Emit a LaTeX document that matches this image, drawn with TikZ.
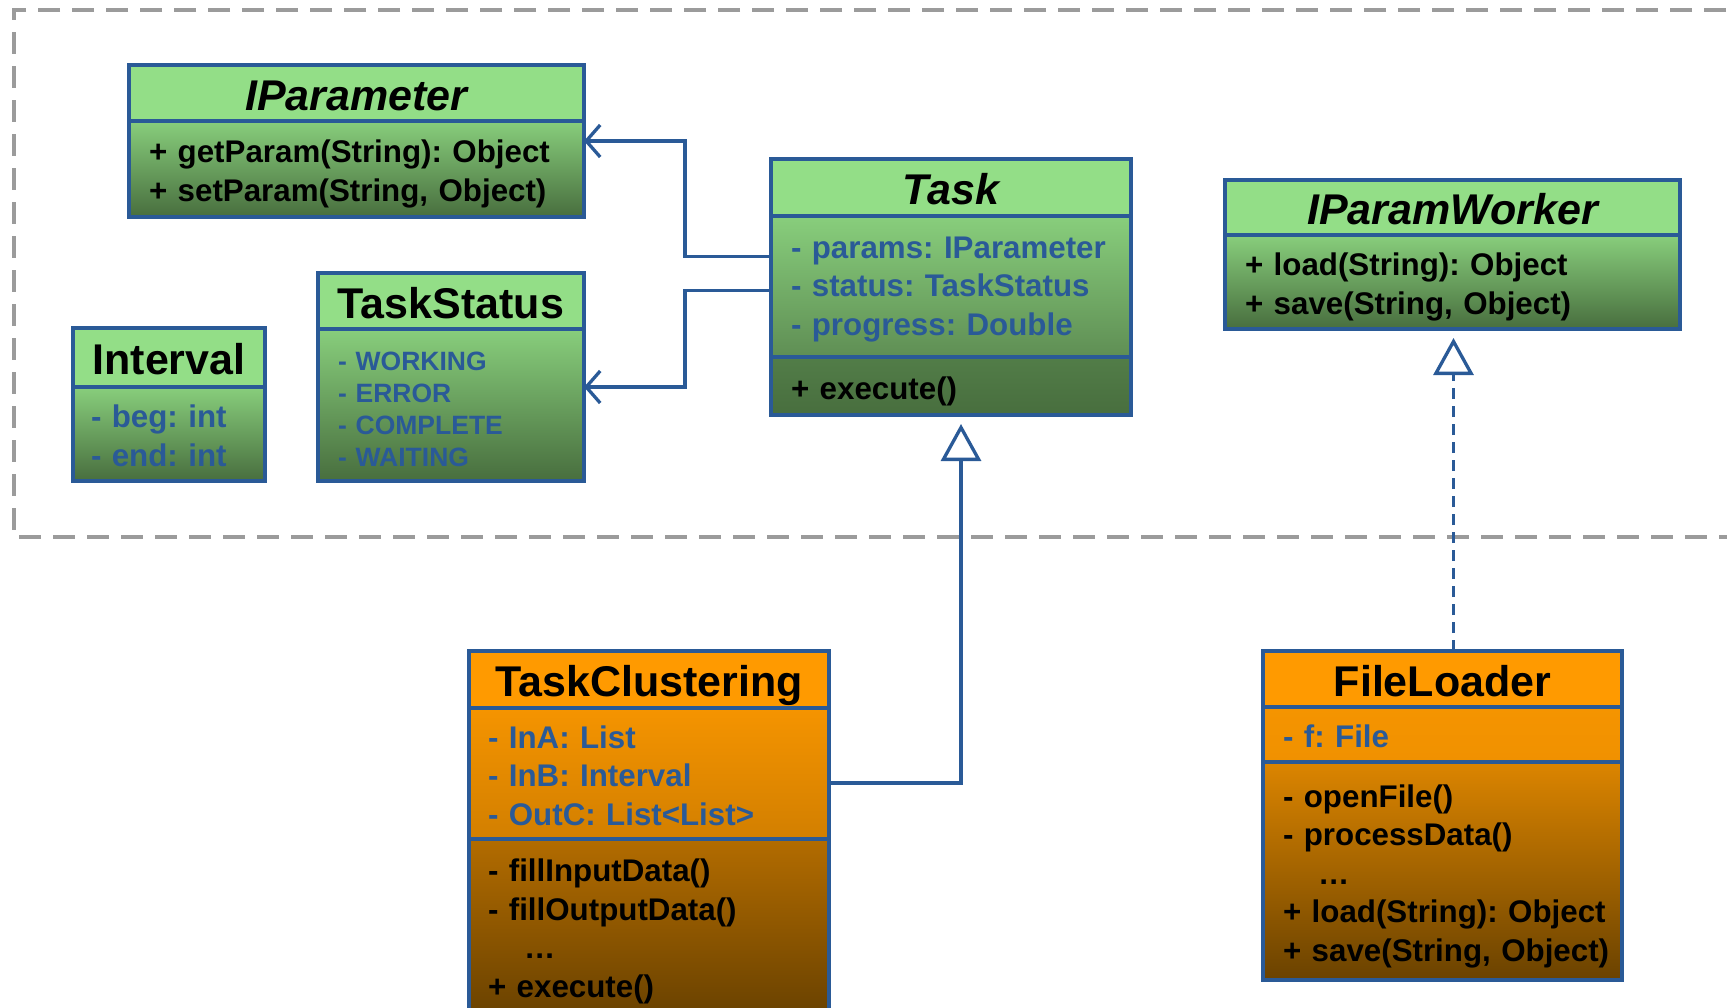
\documentclass[tikz,border=0pt]{standalone}
\usepackage{fontspec}
\setmainfont{Liberation Sans}
\frenchspacing
\usetikzlibrary{arrows.meta, positioning, calc}
\definecolor{umlblue}{HTML}{2A5A97}
\definecolor{headgreen}{HTML}{93DE87}
\definecolor{headorange}{HTML}{FF9A00}
\definecolor{framegray}{HTML}{9B9B9B}
\definecolor{greentop}{RGB}{136,206,124}
\definecolor{greenbottom}{RGB}{72,110,62}
\definecolor{greenmid}{RGB}{95,142,84}
\definecolor{greenlow}{RGB}{82,125,72}
\definecolor{orangetop}{RGB}{245,148,0}
\definecolor{orangemid}{RGB}{210,127,0}
\definecolor{orangelow}{RGB}{179,108,0}
\definecolor{orangebottom}{RGB}{106,66,0}
\definecolor{fileattr}{RGB}{240,145,0}
\definecolor{filemeth}{RGB}{220,133,0}
\newcommand{\titlefont}{\fontsize{43}{50}\selectfont\bfseries}
\newcommand{\itemfont}{\fontsize{31.3}{38.5}\selectfont\bfseries}
\newcommand{\smallitemfont}{\fontsize{26.5}{32}\selectfont\bfseries}
\tikzstyle{classhead} = [rectangle, draw=umlblue, line width=3.5pt, outer sep=0pt, inner sep=0pt, text height=34pt, text depth=0pt, anchor=north west, font=\titlefont]
\tikzstyle{greenhead} = [classhead, fill=headgreen]
\tikzstyle{orangehead} = [classhead, fill=headorange]
\tikzstyle{classpart} = [rectangle, draw=umlblue, line width=3.5pt, outer sep=0pt, inner xsep=20pt, inner ysep=0pt, align=left, font=\itemfont,
	execute at begin node={\hyphenpenalty=10000\rule{0pt}{34pt}}, execute at end node={\rule[-8pt]{0pt}{8pt}}]
\tikzstyle{attribpart} = [classpart, text=umlblue]
\tikzstyle{assoc} = [umlblue, line width=3.3pt, -{Straight Barb[length=14pt, width=32pt]}]
\tikzstyle{inherit} = [umlblue, line width=3.3pt, shorten >=9pt, -{Triangle[open, length=37pt, width=40pt, fill=white]}]
\tikzstyle{realize} = [inherit, dash pattern=on 11pt off 7pt]

\begin{document}
\begin{tikzpicture}[x=1pt, y=-1pt]
		\useasboundingbox (0,0) rectangle (1727,1007);
		\clip (0,0) rectangle (1727,1007);
		% package frame
		\draw [framegray, line width=3.3pt, dash pattern=on 22pt off 12pt] (1760,10) -- (14,10) -- (14,537) -- (1760,537);
		% green classes
		\node (IParamHead) [greenhead, minimum width=455pt, minimum height=56pt] at (129,65) {\itshape IParameter};
		\node (IParamBody) [classpart, text width=415pt, minimum height=96pt, top color=greentop, bottom color=greenbottom, below=0pt of IParamHead.south west, anchor=north west] {\mbox{+ getParam(String): Object}\\\mbox{+ setParam(String, Object)}};
		\node (StatusHead) [greenhead, minimum width=266pt, minimum height=56pt] at (318,273) {TaskStatus};
		\node (StatusBody) [attribpart, font=\smallitemfont, text width=226pt, minimum height=152pt, top color=greentop, bottom color=greenbottom, below=0pt of StatusHead.south west, anchor=north west] {- WORKING\\- ERROR\\- COMPLETE\\- WAITING};
		\node (IntervalHead) [greenhead, minimum width=192pt, minimum height=59pt] at (73,328) {Interval};
		\node (IntervalBody) [attribpart, inner xsep=18pt, text width=156pt, minimum height=94pt, top color=greentop, bottom color=greenbottom, below=0pt of IntervalHead.south west, anchor=north west] {- beg: int\\- end: int};
		\node (TaskHead) [greenhead, minimum width=360pt, minimum height=57pt] at (771,159) {\itshape Task};
		\node (TaskAttr) [attribpart, text width=320pt, minimum height=141pt, top color=greentop, bottom color=greenmid,
			execute at end node={\rule[-14pt]{0pt}{14pt}}, below=0pt of TaskHead.south west, anchor=north west] {\mbox{- params: IParameter}\\- status: TaskStatus\\- progress: Double};
		\node (TaskMeth) [classpart, text width=320pt, minimum height=58pt, top color=greenlow, bottom color=greenbottom, below=0pt of TaskAttr.south west, anchor=north west] {+ execute()};
		\node (IPWHead) [greenhead, minimum width=455pt, minimum height=55pt] at (1225,180) {\itshape IParamWorker};
		\node (IPWBody) [classpart, text width=415pt, minimum height=94pt, top color=greentop, bottom color=greenbottom, below=0pt of IPWHead.south west, anchor=north west] {+ load(String): Object\\+ save(String, Object)};
		% orange classes
		\node (ClustHead) [orangehead, minimum width=360pt, minimum height=57pt] at (469,651) {TaskClustering};
		\node (ClustAttr) [attribpart, inner xsep=19pt, text width=322pt, minimum height=131pt, top color=orangetop, bottom color=orangemid, below=0pt of ClustHead.south west, anchor=north west] {- InA: List\\- InB: Interval\\- OutC: List<List>};
		\node (ClustMeth) [classpart, inner xsep=19pt, text width=322pt, minimum height=175pt, top color=orangelow, bottom color=orangebottom, below=0pt of ClustAttr.south west, anchor=north west] {- fillInputData()\\- fillOutputData()\\\hspace*{36pt}…\\+ execute()};
		\node (FileHead) [orangehead, minimum width=359pt, minimum height=56pt] at (1263,651) {FileLoader};
		\node (FileAttr) [attribpart, text width=319pt, minimum height=55pt, top color=orangetop, bottom color=fileattr, below=0pt of FileHead.south west, anchor=north west] {- f: File};
		\node (FileMeth) [classpart, text width=319pt, minimum height=218pt, top color=filemeth, bottom color=orangebottom, below=0pt of FileAttr.south west, anchor=north west] {- openFile()\\- processData()\\\hspace*{35pt}…\\\mbox{+ load(String): Object}\\\mbox{+ save(String, Object)}};
		% connectors
		\draw [assoc] ([yshift=30pt]TaskAttr.west) -- ++(-86,0) |- ([yshift=28pt]IParamBody.east);
		\draw [assoc] ([yshift=-4pt]TaskAttr.west) -- ++(-86,0) |- ([yshift=18pt]StatusBody.east);
		\draw [inherit] ([yshift=-9.5pt]ClustAttr.east) -| ([xshift=10pt]TaskMeth.south);
		\draw [realize] ([xshift=11pt]FileHead.north) -- ([xshift=11pt]FileHead.north |- IPWBody.south);
	\end{tikzpicture}
\end{document}
